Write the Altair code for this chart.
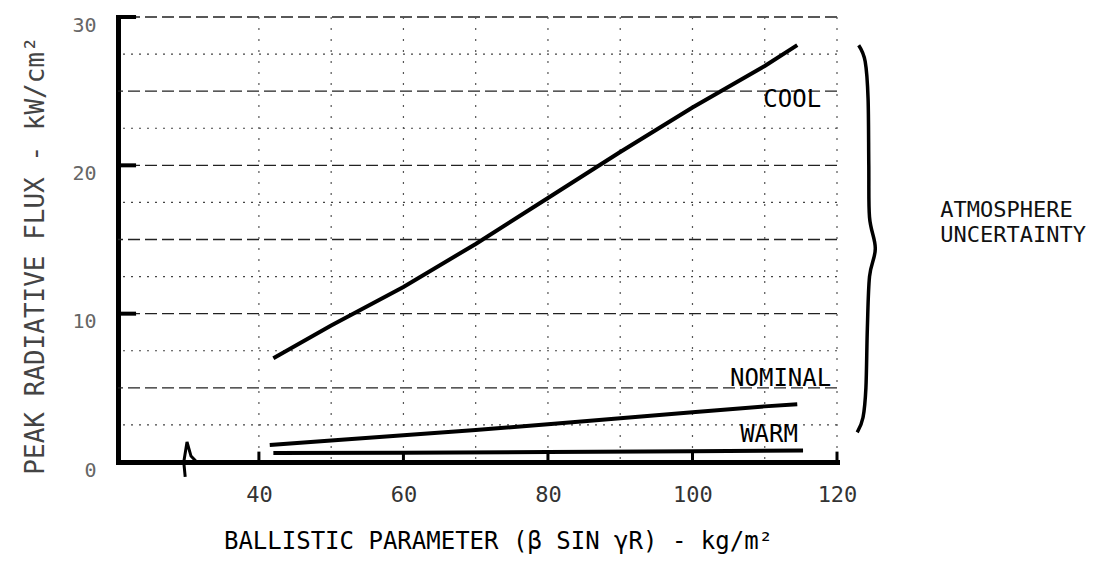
import altair as alt
import pandas as pd

# ---- data ----
cool_x = [42, 50, 60, 70, 80, 90, 100, 110, 114.5]
cool_y = [7.0, 9.2, 11.8, 14.7, 17.8, 20.9, 23.9, 26.7, 28.1]
nominal_x = [41.5, 50, 60, 70, 80, 90, 100, 110, 114.5]
nominal_y = [1.15, 1.45, 1.8, 2.15, 2.55, 2.95, 3.35, 3.75, 3.9]
warm_x = [42, 60, 80, 100, 115.3]
warm_y = [0.6, 0.63, 0.67, 0.72, 0.78]

x_ticks = [40, 60, 80, 100, 120]
y_ticks = [0, 10, 20, 30]
y_inner_ticks = [10, 20, 30]
major_grid_y = [5, 10, 15, 20, 25, 30]
minor_grid_y = [2.5, 7.5, 12.5, 17.5, 22.5, 27.5]
grid_x = [40, 50, 60, 70, 80, 90, 100, 110, 120]

curve_labels = ["COOL", "NOMINAL", "WARM"]
curve_label_x = [109.8, 105.2, 106.6]
curve_label_y = [24.4, 5.6, 1.8]

note_lines = ["ATMOSPHERE", "UNCERTAINTY"]
note_x = [134.3, 134.3]
note_y = [17.0, 15.3]

# axis break squiggle on the x axis and the right-hand brace
break_x = [29.8, 29.6, 30.05, 30.6, 31.4]
break_y = [-1.0, 0.0, 1.35, 0.4, 0.0]
brace_x = [123.0, 123.9, 124.3, 124.4, 124.5, 125.3, 124.5, 124.2, 124.0, 123.6, 122.8]
brace_y = [28.1, 27.0, 24.5, 20.0, 16.5, 14.4, 12.5, 9.0, 5.0, 3.0, 2.0]

# ---- tables ----
curves = pd.concat([
    pd.DataFrame({"x": cool_x, "y": cool_y, "series": "COOL"}),
    pd.DataFrame({"x": nominal_x, "y": nominal_y, "series": "NOMINAL"}),
    pd.DataFrame({"x": warm_x, "y": warm_y, "series": "WARM"}),
], ignore_index=True)
labels_df = pd.DataFrame({"x": curve_label_x, "y": curve_label_y, "label": curve_labels})
note_df = pd.DataFrame({"x": note_x, "y": note_y, "label": note_lines})
break_df = pd.DataFrame({"x": break_x, "y": break_y, "i": range(len(break_x))})
brace_df = pd.DataFrame({"x": brace_x, "y": brace_y, "i": range(len(brace_x))})

MONO = "DejaVu Sans Mono"

xs = alt.Scale(domain=[20.5, 120], nice=False, zero=False)
ys = alt.Scale(domain=[0, 30], nice=False)

xaxis = alt.Axis(
    values=x_ticks, title="BALLISTIC PARAMETER (β SIN γR) - kg/m²", grid=False,
    tickSize=0, domainWidth=5, domainColor="black", domainCap="square",
    labelFont=MONO, labelFontSize=22, labelColor="#333", labelPadding=22,
    labelFlush=False,
    titleFont=MONO, titleFontSize=24, titleFontWeight="normal", titleColor="black",
    titleX=380, titleY=86, titleBaseline="alphabetic", titleAlign="center",
)
yaxis = alt.Axis(
    values=y_ticks, title="PEAK RADIATIVE FLUX - kW/cm²", grid=False,
    tickSize=0, domainWidth=5, domainColor="black", domainCap="square",
    labelFont=MONO, labelFontSize=20, labelColor="#666", labelPadding=22,
    labelOffset=8,
    titleFont=MONO, titleFontSize=26, titleFontWeight="normal", titleColor="#444",
    titleX=-83, titleY=238, titleAngle=270, titleAlign="center", titleBaseline="middle",
)

X = alt.X("x:Q", scale=xs, axis=xaxis)
Y = alt.Y("y:Q", scale=ys, axis=yaxis)

minor_grid = alt.Chart(pd.DataFrame({"y": minor_grid_y})).mark_rule(
    color="#444", strokeWidth=1.2, strokeDash=[2, 6]
).encode(y=Y)

major_grid = alt.Chart(pd.DataFrame({"y": major_grid_y})).mark_rule(
    color="#222", strokeWidth=1.4, strokeDash=[12, 5]
).encode(y=Y)

vert_grid = alt.Chart(pd.DataFrame({"x": grid_x})).mark_rule(
    color="#555", strokeWidth=1.2, strokeDash=[2, 9]
).encode(x=X)

lines = alt.Chart(curves).mark_line(color="black", strokeWidth=4).encode(
    x=X, y=Y, detail="series:N"
)

xtick_rules = alt.Chart(pd.DataFrame({"x": x_ticks})).mark_rule(
    color="black", strokeWidth=3
).encode(x=X, y=alt.datum(0), y2=alt.datum(0.7))

ytick_rules = alt.Chart(pd.DataFrame({"y": y_inner_ticks})).mark_rule(
    color="black", strokeWidth=4
).encode(y=Y, x=alt.datum(20.5), x2=alt.datum(23.0))

squiggle = alt.Chart(break_df).mark_line(color="black", strokeWidth=3).encode(
    x=X, y=Y, order="i:Q"
)

brace = alt.Chart(brace_df).mark_line(
    color="black", strokeWidth=3.5, interpolate="cardinal"
).encode(x=X, y=Y, order="i:Q")

curve_text = alt.Chart(labels_df).mark_text(
    font=MONO, fontSize=24, align="left", baseline="middle", color="black"
).encode(x=X, y=Y, text="label:N")

note_text = alt.Chart(note_df).mark_text(
    font=MONO, fontSize=22, align="left", baseline="middle", color="#111"
).encode(x=X, y=Y, text="label:N")

chart = alt.layer(
    minor_grid, major_grid, vert_grid, lines, xtick_rules, ytick_rules,
    squiggle, brace, curve_text, note_text
).properties(
    width=719, height=445,
    autosize=alt.AutoSizeParams(type="none"),
    padding={"left": 110, "top": 9, "right": 261, "bottom": 100},
    background="white",
).configure_view(strokeWidth=0)

chart.save("out.html", embed_options={"renderer": "svg", "actions": False})
